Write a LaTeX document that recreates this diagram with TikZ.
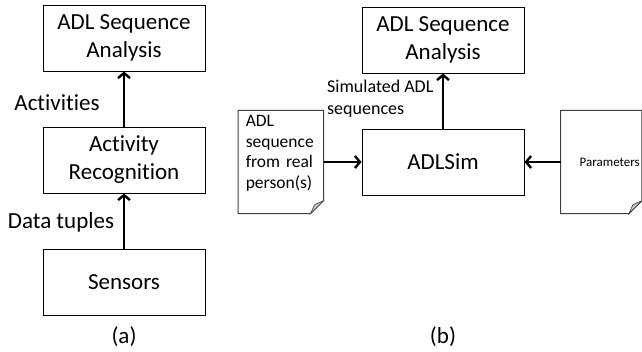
\documentclass[tikz,border=0pt]{standalone}
\usepackage{fontspec}
\setmainfont{Carlito}[RawFeature={-liga;-clig;-dlig;-calt;-rlig}]
\usepackage{xcolor}
\usepackage{tikz}
\usetikzlibrary{arrows.meta, positioning}
\tikzset{
    flowarrow/.style={-{Straight Barb[length=5pt, width=12pt, line width=2.4pt]}, line width=2.6pt},
    box/.style={draw, line width=1pt, rectangle, font=\fontsize{23}{28}\selectfont, minimum width=162pt, minimum height=66pt, align=center, inner sep=0pt},
    doc/.style={rectangle, minimum height=103pt, align=left, inner ysep=0pt},
    docline/.style={draw=black!75, line width=1pt},
    lbl/.style={font=\fontsize{23}{28}\selectfont, inner sep=0pt}
}

\begin{document}
\begin{tikzpicture}[x=1pt, y=-1pt, node distance=55pt]
    \useasboundingbox (0,0) rectangle (642,351);
    % (a)
    \node (sens) [box] at (124,282) {Sensors};
    \node (actrec) [box, above=of sens] {Activity\\Recognition};
    \node (adla) [box, above=of actrec] {ADL Sequence\\Analysis};
    \draw [flowarrow] (sens) -- (actrec);
    \draw [flowarrow] (actrec) -- (adla);
    \node (lbltup) [lbl] at (61,222) {Data tuples};
    \node (lblact) [lbl] at (57,103) {Activities};
    \node (capa) [lbl] at (124,337) {(a)};
    % (b)
    \node (adlsim) [box] at (443,162) {ADLSim};
    \node (adlb) [box, above=of adlsim] {ADL Sequence\\Analysis};
    \node (srcdoc) [doc, left=38pt of adlsim, inner xsep=7.5pt, text width=70pt,
        font=\fontsize{17.5}{20.5}\selectfont] {ADL\\sequence\\from real\\person(s)\\\mbox{}};
    \node (pardoc) [doc, right=36pt of adlsim, inner xsep=2pt, text width=77pt, align=right,
        font=\fontsize{13}{16}\selectfont] {Parameters};
    \foreach \d in {srcdoc, pardoc} {
        \draw [docline] (\d.north west) -- (\d.north east) -- ([yshift=13pt]\d.south east)
            -- ([xshift=-13pt]\d.south east) -- (\d.south west) -- cycle;
        \draw [docline, fill=gray!45, line width=0.6pt] ([xshift=-13pt]\d.south east)
            -- ([yshift=13pt]\d.south east) -- ([xshift=-9pt, yshift=9pt]\d.south east) -- cycle;
    }
    \draw [flowarrow] (adlsim) -- (adlb);
    \draw [flowarrow] (srcdoc) -- (adlsim);
    \draw [flowarrow] (pardoc) -- (adlsim);
    \node (lblsim) [anchor=west, align=left, inner sep=0pt, font=\fontsize{18}{22}\selectfont]
        at (327,99) {Simulated ADL\\sequences};
    \node (capb) [lbl] at (443,337) {(b)};
\end{tikzpicture}
\end{document}
